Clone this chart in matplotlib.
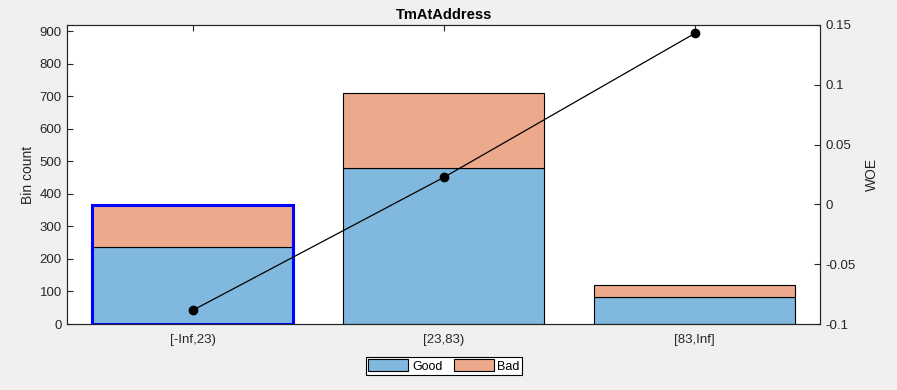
import matplotlib
matplotlib.use("Agg")
import matplotlib.pyplot as plt
import numpy as np
from matplotlib.patches import Patch

plt.rcParams['font.family'] = ['Liberation Sans', 'DejaVu Sans']

categories = ['[-Inf,23)', '[23,83)', '[83,Inf]']
good = [237, 479, 82]
bad = [129, 232, 37]
woe = [-0.0885, 0.0226, 0.1430]
yticks_left = [0, 100, 200, 300, 400, 500, 600, 700, 800, 900]
yticks_right = [-0.1, -0.05, 0, 0.05, 0.1, 0.15]
yticklabels_right = ['-0.1', '-0.05', '0', '0.05', '0.1', '0.15']

good_color = (0.5, 0.7235, 0.8705)
bad_color = (0.925, 0.6625, 0.549)
axc = '#262626'

fig = plt.figure(figsize=(8.97, 3.90), dpi=100)
fig.patch.set_facecolor('#f0f0f0')
ax = fig.add_axes([0.0750, 0.1692, 0.9145 - 0.0750, 0.9359 - 0.1692])
ax.set_facecolor('white')

x = np.arange(1, len(categories) + 1)
ax.bar(x, good, width=0.8, color=good_color, edgecolor='black', linewidth=0.8, zorder=2)
ax.bar(x, bad, bottom=good, width=0.8, color=bad_color, edgecolor='black', linewidth=0.8, zorder=2)
# highlight first bin
tot0 = good[0] + bad[0]
ax.bar([x[0]], [tot0], width=0.8, fill=False, edgecolor='#0000ff', linewidth=2.2, zorder=3)

ax.set_xlim(0.5, 3.5)
ax.set_ylim(0, 919)
ax.set_yticks(yticks_left)
ax.set_xticks(x)
ax.set_xticklabels(categories)
ax.set_ylabel('Bin count', fontsize=10, color=axc, labelpad=3)
ax.tick_params(axis='y', direction='in', length=4.5, labelsize=9.5, colors=axc, width=0.8, right=False, pad=4)
ax.tick_params(axis='x', direction='in', length=4.5, labelsize=9.5, colors=axc, width=0.8, top=True, pad=7)
for s in ax.spines.values():
    s.set_color(axc)
    s.set_linewidth(0.8)

ax2 = ax.twinx()
ax2.plot(x, woe, color='black', linewidth=0.9, marker='o', markersize=6, markerfacecolor='black', zorder=5)
ax2.set_ylim(-0.1, 0.15)
ax2.set_yticks(yticks_right)
ax2.set_yticklabels(yticklabels_right)
ax2.set_ylabel('WOE', fontsize=10, color=axc, labelpad=6)
ax2.tick_params(axis='y', direction='in', length=4.5, labelsize=9.5, colors=axc, width=0.8, pad=4)
for s in ax2.spines.values():
    s.set_color(axc)
    s.set_linewidth(0.8)

ax.set_title('TmAtAddress', fontsize=10.5, fontweight='bold', color='black', pad=4)

handles = [Patch(facecolor=good_color, edgecolor='black', linewidth=0.8, label='Good'),
           Patch(facecolor=bad_color, edgecolor='black', linewidth=0.8, label='Bad')]
leg = fig.legend(handles=handles, loc='center', bbox_to_anchor=(444 / 897, 1 - 366 / 390),
                 ncol=2, fontsize=9, frameon=True, fancybox=False, framealpha=1,
                 edgecolor='black', handlelength=3.2, handleheight=1.05, columnspacing=0.9,
                 handletextpad=0.3, borderpad=0.2, borderaxespad=0)
leg.get_frame().set_linewidth(0.8)

fig.savefig('out.png', dpi=100, facecolor=fig.get_facecolor())
